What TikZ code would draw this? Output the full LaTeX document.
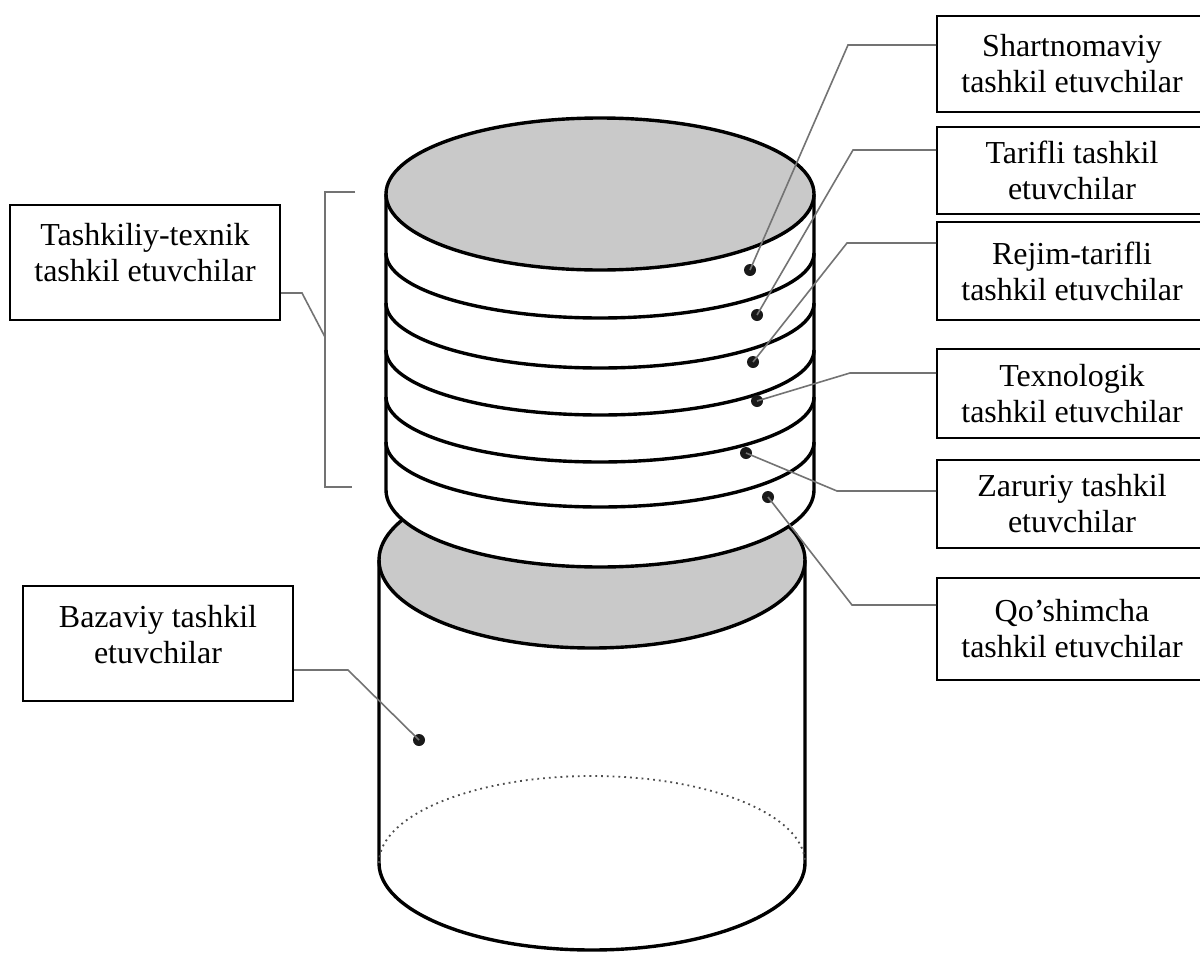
\documentclass[tikz,border=0pt]{standalone}
\usepackage{fontspec}
\setmainfont{Liberation Serif}
\begin{document}
\begin{tikzpicture}[x=0.5pt,y=-0.5pt,
  outline/.style={line width=1.7pt, black, line join=round},
  conn/.style={line width=0.8pt, black!55},
  box/.style={draw, line width=1pt, inner sep=0pt, fill=white},
  txt/.style={align=center, font=\fontsize{16}{18}\selectfont, inner sep=0pt},
  dot/.style={circle, fill=black!90, minimum size=6pt, inner sep=0pt}]
\useasboundingbox (0,0) rectangle (1200,959);
\fill[white] (0,0) rectangle (1200,959);

% ---------- lower cylinder ----------
\fill[black!21] (592,560) ellipse[x radius=213, y radius=88];
\draw[outline] (592,560) ellipse[x radius=213, y radius=88];
\draw[outline] (379,560) -- (379,863)
  arc[start angle=180, end angle=0, x radius=213, y radius=87] -- (805,560);
\draw[black!70, line width=0.9pt, dotted] (379,863)
  arc[start angle=180, end angle=360, x radius=213, y radius=87];

% ---------- upper cylinder ----------
\fill[white] (386,194) -- (386,490)
  arc[start angle=180, end angle=0, x radius=214, y radius=77] -- (814,194) -- cycle;
\draw[outline] (386,194) -- (386,490)
  arc[start angle=180, end angle=0, x radius=214, y radius=77] -- (814,194);
\foreach \yy in {253,303,350,397,442}
  \draw[outline] (386,\yy) arc[start angle=180, end angle=0, x radius=214, y radius=65];
\fill[black!21] (600,194) ellipse[x radius=214, y radius=76];
\draw[outline] (600,194) ellipse[x radius=214, y radius=76];

% ---------- dots ----------
\node[dot] (d1) at (750,270) {};
\node[dot] (d2) at (757,315) {};
\node[dot] (d3) at (753,362) {};
\node[dot] (d4) at (757,401) {};
\node[dot] (d5) at (746,453) {};
\node[dot] (d6) at (768,497) {};
\node[dot] (d7) at (419,740) {};

% ---------- boxes ----------
\node[box, txt, minimum width=135pt, minimum height=48pt] (b1) at (1072,64)
  {Shartnomaviy\\tashkil etuvchilar};
\node[box, txt, minimum width=135pt, minimum height=43.5pt] (b2) at (1072,170.5)
  {Tarifli tashkil\\etuvchilar};
\node[box, txt, minimum width=135pt, minimum height=49pt] (b3) at (1072,271)
  {Rejim-tarifli\\tashkil etuvchilar};
\node[box, txt, minimum width=135pt, minimum height=44.5pt] (b4) at (1072,393.5)
  {Texnologik\\tashkil etuvchilar};
\node[box, txt, minimum width=135pt, minimum height=44pt] (b5) at (1072,504)
  {Zaruriy tashkil\\etuvchilar};
\node[box, txt, minimum width=135pt, minimum height=51pt] (b6) at (1072,629)
  {Qo’shimcha\\tashkil etuvchilar};
\node[box, minimum width=135pt, minimum height=57.5pt] (b7) at (145,262.5) {};
\node[txt] (t7) at (145,253) {Tashkiliy-texnik\\tashkil etuvchilar};
\node[box, minimum width=135pt, minimum height=57.5pt] (b8) at (158,643.5) {};
\node[txt] (t8) at (158,635) {Bazaviy tashkil\\etuvchilar};

% ---------- connectors ----------
\coordinate (k1) at (848,45);
\coordinate (k2) at (853,150);
\coordinate (k3) at (847,243);
\coordinate (k4) at (850,373);
\coordinate (k5) at (837,491);
\coordinate (k6) at (852,605);
\coordinate (k7) at (348,670);
\coordinate (k8) at (302,293);
\coordinate (br) at (325,337);
\coordinate (bt) at (325,192);
\coordinate (bb) at (325,487);
\coordinate (btt) at (355,192);
\coordinate (bbt) at (352,487);

\draw[conn] (b1.west |- k1) -- (k1) -- (d1.center);
\draw[conn] (b2.west |- k2) -- (k2) -- (d2.center);
\draw[conn] (b3.west |- k3) -- (k3) -- (d3.center);
\draw[conn] (b4.west |- k4) -- (k4) -- (d4.center);
\draw[conn] (b5.west |- k5) -- (k5) -- (d5.center);
\draw[conn] (b6.west |- k6) -- (k6) -- (d6.center);
\draw[conn] (b8.east |- k7) -- (k7) -- (d7.center);
\draw[conn] (b7.east |- k8) -- (k8) -- (br);
\draw[conn] (btt) -- (bt) -- (bb) -- (bbt);
\end{tikzpicture}
\end{document}
